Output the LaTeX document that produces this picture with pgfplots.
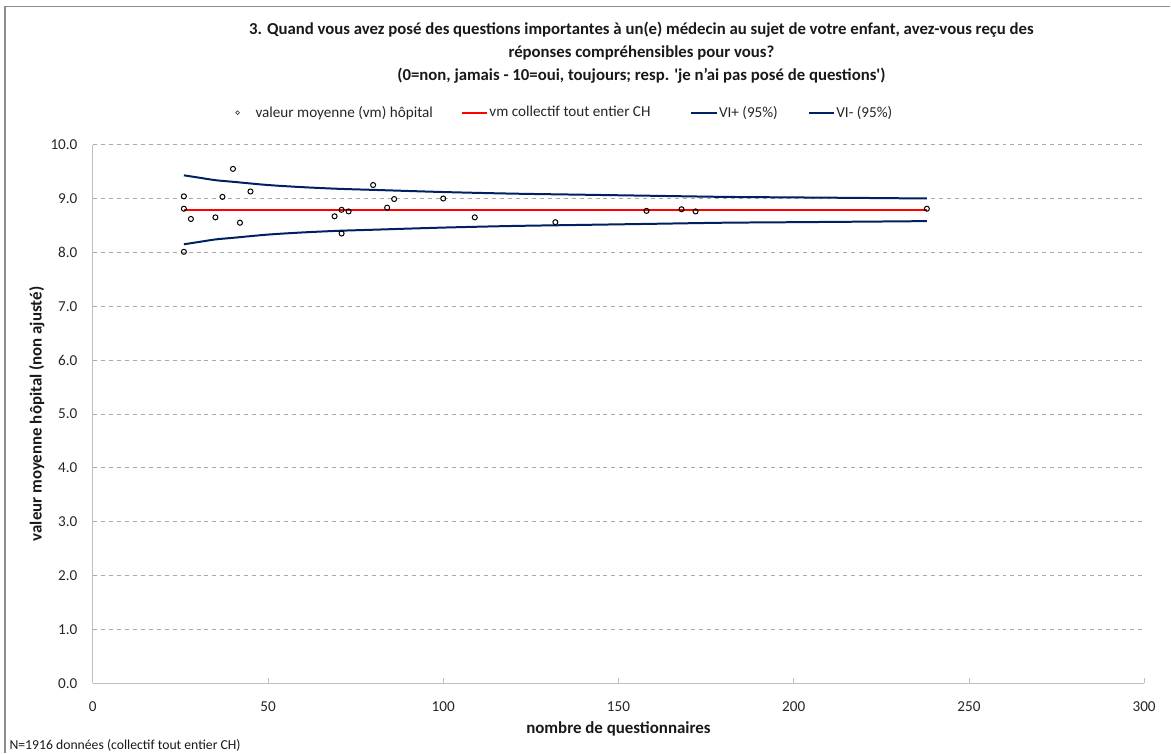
\documentclass[border=0pt]{standalone}
\usepackage{fontspec}
\setmainfont{Carlito}[Ligatures=TeXOff]
\usepackage{pgfplots}
\pgfplotsset{compat=1.18}
\definecolor{navy}{RGB}{0,32,96}
\definecolor{gridgray}{RGB}{170,170,170}
\definecolor{axgray}{RGB}{190,190,190}
\definecolor{framegray}{RGB}{140,140,140}
\begin{document}
\begin{tikzpicture}
% canvas 1171x755 px at 0.75pt/px
\path (0,0) rectangle (878.25pt,566.25pt);
\draw[framegray, line width=0.9pt] (3.75pt,0pt) -- (3.75pt,561.4pt) -- (880pt,561.4pt);
\begin{axis}[
  at={(69.75pt,52.5pt)}, anchor=south west,
  scale only axis, width=790.5pt, height=405pt,
  xmin=0, xmax=300, ymin=0, ymax=10,
  xtick={0,50,...,300}, ytick={0,1,...,10},
  axis line style={axgray, line width=0.8pt},
  axis x line*=bottom, axis y line*=left,
  x axis line style={-}, y axis line style={-},
  xtick style={axgray, line width=0.6pt},
  major tick length=4pt,
  ytick style={draw=none},
  ymajorgrids, major grid style={gridgray, dashed, line width=0.5pt},
  /pgf/number format/assume math mode=true,
  yticklabel style={/pgf/number format/fixed, /pgf/number format/fixed zerofill, /pgf/number format/precision=1, xshift=-8pt},
  ticklabel style={font=\fontsize{11.4}{13}\selectfont, text=black!85},
  xticklabel style={yshift=-10.5pt},
  set layers,
  clip=false,
  legend columns=4,
  legend style={draw=none, inner sep=0pt, at={(0.1354,1)}, anchor=west, yshift=24pt,
    font=\fontsize{11.4}{13}\selectfont, text=black!85,
    /tikz/column 2/.style={column sep=20pt},
    /tikz/column 4/.style={column sep=29pt},
    /tikz/column 6/.style={column sep=21.5pt},
    nodes={inner sep=1pt}},
]
\addplot[only marks, mark=o, mark size=1.9pt, mark options={black, line width=0.75pt, fill=white}, on layer=axis foreground,
  legend image code/.code={\path[draw=none] (-1pt,0) rectangle (12.5pt,0.1pt); \draw[black!80, line width=0.5pt] (0pt,0) circle (1.4pt);}]
  coordinates {
  (26,9.04) (26,8.81) (28,8.62) (40,9.55) (37,9.03) (35,8.65) (42,8.55)
  (45,9.13) (26,8.01) (69,8.67) (71,8.79) (73,8.76) (71,8.35) (80,9.25)
  (84,8.83) (86,8.99) (100,9.00) (109,8.65) (132,8.56) (158,8.77)
  (168,8.80) (172,8.76) (238,8.81)
  };
\addlegendentry{valeur moyenne (vm) hôpital}
\addplot[red, line width=1.5pt, legend image code/.code={\draw[red, line width=1.5pt] (0,0) -- (19pt,0);}]
  coordinates {(26,8.79) (238,8.79)};
\addlegendentry{vm collectif tout entier CH}
\addplot[navy, line width=1.5pt, smooth, legend image code/.code={\draw[navy, line width=1.5pt] (0,0) -- (19pt,0);}]
  coordinates {
  (26,9.43) (30,9.39) (35,9.34) (40,9.31) (50,9.25) (60,9.21) (70,9.18)
  (80,9.16) (100,9.12) (120,9.09) (140,9.07) (160,9.05) (180,9.03)
  (200,9.02) (220,9.01) (238,9.00)
  };
\addlegendentry{VI+ (95\%)}
\addplot[navy, line width=1.5pt, smooth, legend image code/.code={\draw[navy, line width=1.5pt] (0,0) -- (19pt,0);}]
  coordinates {
  (26,8.15) (30,8.19) (35,8.24) (40,8.27) (50,8.33) (60,8.37) (70,8.40)
  (80,8.42) (100,8.46) (120,8.49) (140,8.51) (160,8.53) (180,8.55)
  (200,8.56) (220,8.57) (238,8.58)
  };
\addlegendentry{VI- (95\%)}
\end{axis}
\node[font=\bfseries\fontsize{12.6}{15}\selectfont, align=center, text=black!90] at (482.25pt,526.5pt)
  {3. Quand vous avez posé des questions importantes à un(e) médecin au sujet de votre enfant, avez-vous reçu des\\[2.2pt]
   réponses compréhensibles pour vous?\\[2.2pt]
   (0=non, jamais - 10=oui, toujours; resp. 'je n’ai pas posé de questions')};
\node[font=\bfseries\fontsize{12.7}{14}\selectfont, rotate=90, text=black!90] at (27.75pt,255pt) {valeur moyenne hôpital (non ajusté)};
\node[font=\bfseries\fontsize{12.7}{14}\selectfont, text=black!90] at (465pt,18pt) {nombre de questionnaires};
\node[font=\fontsize{10.3}{13}\selectfont, anchor=west, text=black!90, inner sep=0pt] at (7pt,6pt) {N=1916 données (collectif tout entier CH)};
\end{tikzpicture}
\end{document}
